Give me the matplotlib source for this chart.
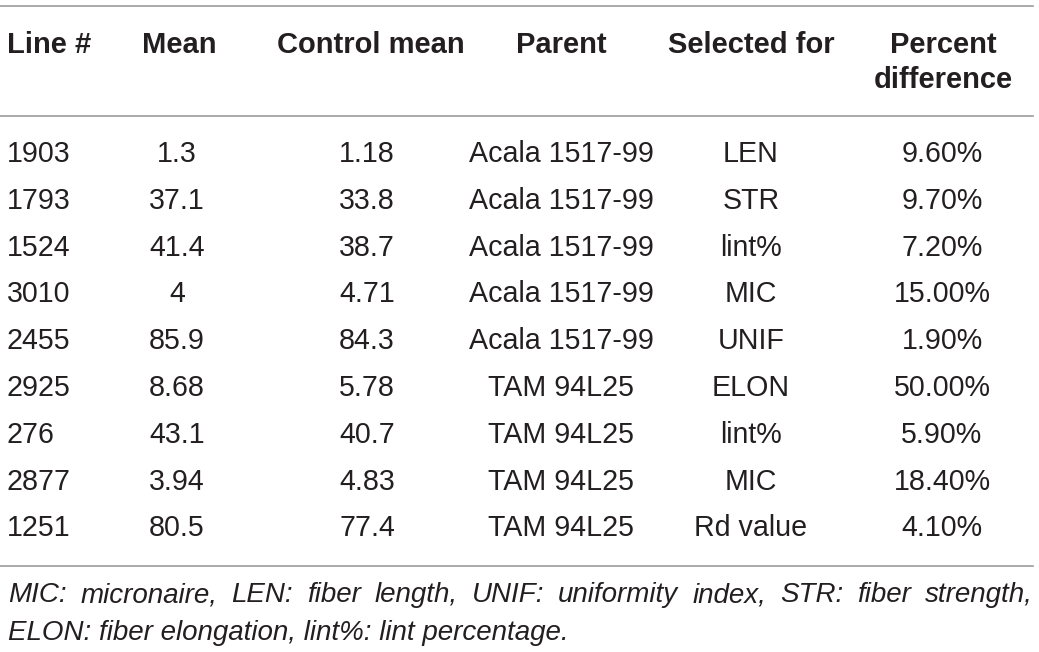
import matplotlib
matplotlib.use("Agg")
import matplotlib.pyplot as plt
from matplotlib.lines import Line2D

# table content
headers = ["Line #", "Mean", "Control mean", "Parent", "Selected for", "Percent\ndifference"]
line_ids = ["1903", "1793", "1524", "3010", "2455", "2925", "276", "2877", "1251"]
means = ["1.3", "37.1", "41.4", "4", "85.9", "8.68", "43.1", "3.94", "80.5"]
control_means = ["1.18", "33.8", "38.7", "4.71", "84.3", "5.78", "40.7", "4.83", "77.4"]
parents = ["Acala 1517-99"] * 5 + ["TAM 94L25"] * 4
selected_for = ["LEN", "STR", "lint%", "MIC", "UNIF", "ELON", "lint%", "MIC", "Rd value"]
pct_diff = ["9.60%", "9.70%", "7.20%", "15.00%", "1.90%", "50.00%", "5.90%", "18.40%", "4.10%"]
footnote1 = "MIC: micronaire, LEN: fiber length, UNIF: uniformity index, STR: fiber strength,"
footnote2 = "ELON: fiber elongation, lint%: lint percentage."

W, H = 1039, 652
fig = plt.figure(figsize=(W / 100, H / 100), dpi=100)
fig.patch.set_facecolor("white")

txt_col = "#231f20"
rule_col = "#9b9b9b"
fam = ["Liberation Sans", "DejaVu Sans"]
fs_head = 21
fs_body = 20.6
fs_note = 20


def fx(x):
    return x / W


def fy(y):
    return 1 - y / H


# column x positions (pixels) and alignment
col_x = [7, 177, 367, 561, 751, 942]
col_ha = ["left", "center", "center", "center", "center", "center"]
head_x = [7, 179, 371, 561, 751, 943]

# rules
for y in [6, 116, 566]:
    fig.add_artist(Line2D([fx(0), fx(1033)], [fy(y), fy(y)], color=rule_col, lw=1.2))

# headers (baselines in pixels)
for i, h in enumerate(headers):
    parts = h.split("\n")
    for k, part in enumerate(parts):
        fig.text(fx(head_x[i]), fy([53, 88][k]), part, ha=col_ha[i], va="baseline",
                 fontsize=fs_head, fontweight="bold", color=txt_col, family=fam)

# body rows
columns = [line_ids, means, control_means, parents, selected_for, pct_diff]
y0, dy = 162, 46.8
for r in range(len(line_ids)):
    y = y0 + r * dy
    for c, col in enumerate(columns):
        fig.text(fx(col_x[c]), fy(y), col[r], ha=col_ha[c], va="baseline",
                 fontsize=fs_body, color=txt_col, family=fam)

# footnote, first line justified between x=7 and x=1033
fig.canvas.draw()
renderer = fig.canvas.get_renderer()
words = footnote1.split(" ")
arts = []
total = 0
for w in words:
    t = fig.text(0, fy(602), w, ha="left", va="baseline", fontsize=fs_note, style="italic",
                 color=txt_col, family=fam)
    arts.append(t)
    total += t.get_window_extent(renderer).width
gap = (1033 - 8 - total) / (len(words) - 1)
x = 8
for t in arts:
    t.set_x(fx(x))
    x += t.get_window_extent(renderer).width + gap

fig.text(fx(8), fy(640), footnote2, ha="left", va="baseline", fontsize=fs_note, style="italic",
         color=txt_col, family=fam)

fig.savefig("out.png", dpi=100, facecolor="white")
